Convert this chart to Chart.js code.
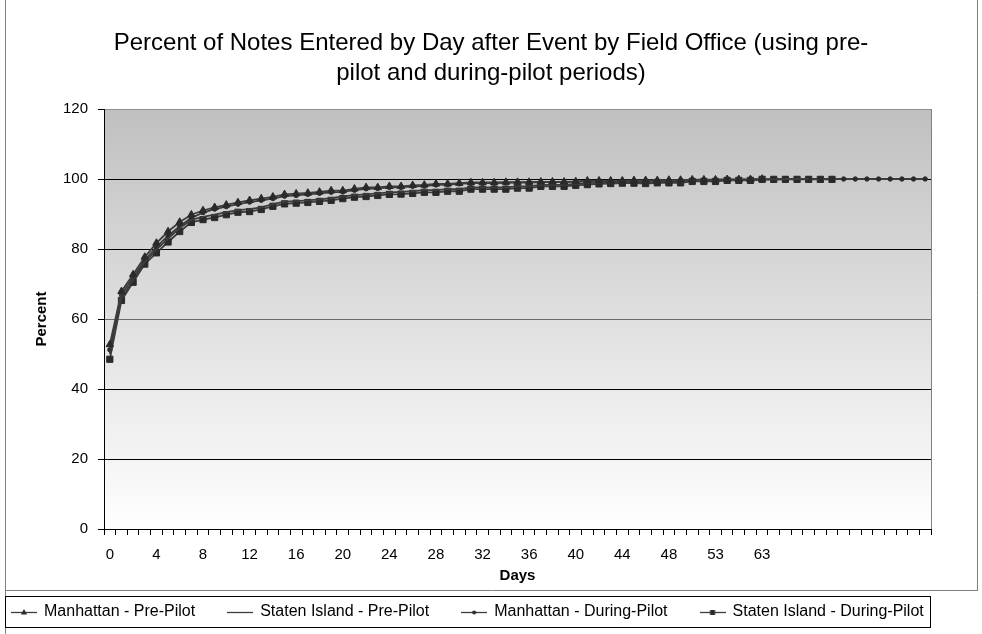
<!DOCTYPE html>
<html><head><meta charset="utf-8">
<script src="https://cdn.jsdelivr.net/npm/chart.js@4/dist/chart.umd.min.js"></script>
<style>html,body{margin:0;padding:0;background:#fff;}canvas{display:block;}</style>
</head><body>
<canvas id="c" width="982" height="634"></canvas>
<script>
// ---- data ----
const days = ['0','1','2','3','4','5','6','7','8','9','10','11','12','13','14','15','16','17','18','19',
  '20','21','22','23','24','25','26','27','28','29','30','31','32','33','34','35','36','37','38','39',
  '40','41','42','43','44','45','46','47','48','49','50','51','53','55','57','60','63',
  '','','','','','','','','','','','','',''];
const yTicks = [0,20,40,60,80,100,120];
const manhattanPre = [52.7,67.9,72.7,77.7,81.7,85.0,87.7,89.8,91.0,91.9,
  92.6,93.3,93.9,94.4,94.9,95.6,95.8,96.0,96.3,96.7,
  96.7,97.2,97.6,97.6,97.9,97.9,98.2,98.3,98.6,98.6,
  98.8,99.0,99.0,99.0,99.1,99.1,99.1,99.2,99.2,99.2,
  99.3,99.5,99.5,99.5,99.5,99.6,99.6,99.6,99.7,99.7,
  99.8,99.8,99.8,99.9,99.9,99.9,100];
const statenPre = [50.0,66.0,71.2,76.3,79.8,83.0,86.0,88.3,89.2,89.8,
  90.5,91.1,91.4,91.9,92.8,93.5,93.7,93.9,94.2,94.5,
  95.0,95.4,95.6,95.9,96.2,96.3,96.5,96.8,96.8,97.1,
  97.1,97.6,97.6,97.6,97.6,97.9,97.9,98.3,98.3,98.3,
  98.6,98.8,98.9,99.0,99.1,99.1,99.1,99.2,99.2,99.2,
  99.5,99.5,99.5,99.7,99.7,99.7,99.9,99.9,100,100,100];
const manhattanDuring = [51.2,67.0,72.0,76.8,80.6,83.8,86.5,88.9,90.4,91.4,
  92.1,92.8,93.4,93.9,94.4,95.1,95.3,95.6,95.9,96.2,
  96.3,96.8,97.2,97.3,97.6,97.6,97.9,98.0,98.3,98.4,
  98.6,98.8,98.8,98.8,98.9,99.0,99.0,99.1,99.1,99.1,
  99.2,99.4,99.4,99.4,99.5,99.5,99.5,99.6,99.6,99.7,
  99.7,99.7,99.8,99.8,99.8,99.9,99.9,99.9,100,100,
  100,100,100,100,100,100,100,100,100,100,100];
const statenDuring = [48.5,65.3,70.5,75.7,78.9,82.0,85.0,87.6,88.4,89.0,
  89.8,90.5,90.7,91.3,92.2,92.9,93.1,93.3,93.6,93.9,
  94.4,94.8,95.0,95.3,95.6,95.7,95.9,96.2,96.2,96.5,
  96.5,97.1,97.1,97.1,97.1,97.4,97.4,97.9,97.9,97.9,
  98.2,98.4,98.6,98.7,98.8,98.8,98.7,98.9,98.9,98.9,
  99.3,99.3,99.3,99.6,99.6,99.6,99.9,99.9,99.9,99.9,
  99.9,99.9,99.9];

// ---- styling ----
const FONT = "'Liberation Sans', Arial, sans-serif";
Chart.defaults.font.family = FONT;
Chart.defaults.color = '#000';
const LINE = '#3c3c3c', MARK = '#2a2a2a';

function legendIcon(style){
  const c = document.createElement('canvas'); c.width = 26; c.height = 12;
  const g = c.getContext('2d');
  g.strokeStyle = LINE; g.lineWidth = 1.3;
  g.beginPath(); g.moveTo(0,6.5); g.lineTo(26,6.5); g.stroke();
  g.fillStyle = MARK;
  if (style === 'triangle') { g.beginPath(); g.moveTo(13,3); g.lineTo(16,8.5); g.lineTo(10,8.5); g.closePath(); g.fill(); }
  else if (style === 'circle') { g.beginPath(); g.arc(13,6.5,2,0,Math.PI*2); g.fill(); }
  else if (style === 'rect') { g.fillRect(10.5,4,5,5); }
  return c;
}

const bgPlugin = {
  id: 'bg',
  beforeDraw(chart){
    const {ctx, chartArea: a} = chart;
    const gr = ctx.createLinearGradient(0, a.top, 0, a.bottom);
    gr.addColorStop(0, '#c0c0c0');
    gr.addColorStop(1, '#ffffff');
    ctx.save(); ctx.fillStyle = gr; ctx.fillRect(a.left, a.top, a.right - a.left, a.bottom - a.top); ctx.restore();
  },
  afterLayout(chart){
    const lg = chart.legend; const P = lg.options.labels.padding;
    const dx = 12 - (lg.left + P); lg.left += dx; lg.right += dx;
    const dy = 604 - (lg.top + P); lg.top += dy; lg.bottom += dy;
  },
  afterDraw(chart){
    const {ctx, chartArea: a} = chart;
    ctx.save();
    ctx.strokeStyle = '#808080'; ctx.lineWidth = 1;
    ctx.beginPath();
    ctx.moveTo(a.right + 0.5, a.top); ctx.lineTo(a.right + 0.5, a.bottom);
    ctx.stroke();
    // outer frame
    ctx.beginPath();
    ctx.moveTo(5.5, 0); ctx.lineTo(5.5, 634);
    ctx.moveTo(977.5, 0); ctx.lineTo(977.5, 591);
    ctx.moveTo(5, 590.5); ctx.lineTo(978, 590.5);
    ctx.stroke();
    // legend box
    const hb = chart.legend.legendHitBoxes;
    const last = hb[hb.length - 1];
    ctx.strokeStyle = '#000';
    ctx.strokeRect(5.5, 596.5, Math.round(last.left + last.width + 6) - 5, 31);
    ctx.restore();
  }
};

const base = { borderColor: LINE, borderWidth: 1.8, tension: 0, pointBackgroundColor: MARK,
  pointBorderColor: MARK, pointBorderWidth: 1, pointHoverRadius: 4, fill: false, yAxisID: 'y' };

new Chart(document.getElementById('c'), {
  type: 'line',
  data: {
    labels: days,
    datasets: [
      Object.assign({}, base, {label: 'Manhattan - Pre-Pilot', data: manhattanPre, pointStyle: 'triangle', pointRadius: 4.3}),
      Object.assign({}, base, {label: 'Staten Island - Pre-Pilot', data: statenPre, pointStyle: false, pointRadius: 0}),
      Object.assign({}, base, {label: 'Manhattan - During-Pilot', data: manhattanDuring, pointStyle: 'circle', pointRadius: 2.2}),
      Object.assign({}, base, {label: 'Staten Island - During-Pilot', data: statenDuring, pointStyle: 'rect', pointRadius: 4.4})
    ]
  },
  options: {
    responsive: false, animation: false,
    layout: { padding: { left: 0, right: 0, top: 0, bottom: 0 } },
    plugins: {
      title: { display: true, text: ['Percent of Notes Entered by Day after Event by Field Office (using pre-', 'pilot and during-pilot periods)'],
        font: { size: 24, weight: 'normal', lineHeight: 1.25 }, color: '#000', padding: { top: 28, bottom: 21 } },
      legend: { position: 'bottom', align: 'start',
        labels: { usePointStyle: true, pointStyleWidth: 24, padding: 33, font: { size: 16 }, color: '#000',
          generateLabels(chart){
            const items = Chart.defaults.plugins.legend.labels.generateLabels(chart);
            const styles = ['triangle','none','circle','rect'];
            items.forEach((it, i) => { it.pointStyle = legendIcon(styles[i]); it.lineWidth = 0; });
            return items;
          } } },
      tooltip: { enabled: false }
    },
    scales: {
      x: { type: 'category', offset: true,
        grid: { offset: true, drawOnChartArea: false, drawTicks: true, tickLength: 6, color: '#000' },
        border: { color: '#000', width: 1 },
        ticks: { autoSkip: false, maxRotation: 0, minRotation: 0, padding: 11, font: { size: 15 }, color: '#000',
          callback: (v, i) => (i % 4 === 0 ? days[i] : '') },
        title: { display: true, text: 'Days', font: { size: 15, weight: 'bold' }, padding: { top: 0, bottom: -10 } },
        afterFit: s => { s.height = 46; } },
      y: { min: 0, max: 120,
        afterBuildTicks: s => { s.ticks = yTicks.map(v => ({ value: v })); },
        grid: { color: c => (c.tick && c.tick.value === 120 ? '#909090' : (c.tick && c.tick.value === 60 ? '#6a6a6a' : '#000')),
          tickColor: '#000', tickLength: 6, drawTicks: true },
        border: { color: '#000', width: 1 },
        ticks: { padding: 10, font: { size: 15 }, color: '#000' },
        title: { display: true, text: 'Percent', font: { size: 15, weight: 'bold' }, padding: { top: 33, bottom: 0 } },
        afterFit: s => { s.width = 104; } },
      yR: { position: 'right', display: true, min: 0, max: 1,
        grid: { display: false, drawTicks: false }, border: { display: false },
        ticks: { display: false }, title: { display: false },
        afterFit: s => { s.width = 51; } }
    }
  },
  plugins: [bgPlugin]
});
</script>
</body></html>
